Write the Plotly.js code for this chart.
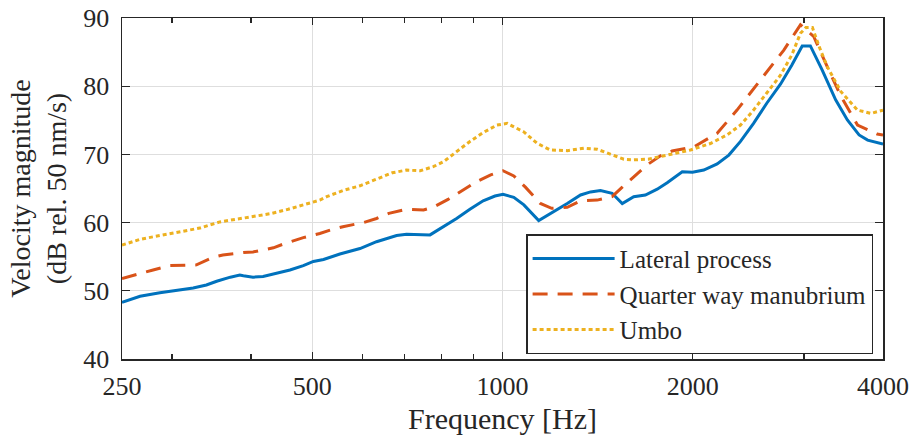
<!DOCTYPE html>
<html>
<head>
<meta charset="utf-8">
<script src="https://cdn.plot.ly/plotly-3.0.1.min.js"></script>
<style>
  html, body { margin: 0; padding: 0; background: #ffffff; }
  #chart { width: 913px; height: 438px; }
</style>
</head>
<body>
<div id="chart"></div>
<script>
// ---- Data ----
const seriesNames = ["Lateral process", "Quarter way manubrium", "Umbo"];

const lateralFreq = [250, 267, 287, 309, 324, 340, 353, 371, 384, 389, 403, 418, 439, 461, 484, 502, 521, 553, 595, 632, 680, 705, 768, 806, 846, 888, 932, 973, 1002, 1042, 1081, 1141, 1206, 1266, 1329, 1378, 1429, 1491, 1547, 1613, 1683, 1757, 1822, 1925, 1998, 2082, 2186, 2281, 2380, 2496, 2619, 2753, 2870, 2980, 3070, 3204, 3366, 3513, 3666, 3782, 4000];
const lateralVel = [48.3, 49.2, 49.7, 50.1, 50.4, 50.85, 51.4, 52.0, 52.3, 52.2, 52.0, 52.1, 52.6, 53.05, 53.7, 54.3, 54.6, 55.4, 56.2, 57.2, 58.1, 58.3, 58.2, 59.4, 60.6, 61.95, 63.2, 63.9, 64.15, 63.7, 62.6, 60.3, 61.6, 62.8, 64.05, 64.5, 64.7, 64.3, 62.8, 63.8, 64.05, 64.9, 65.85, 67.45, 67.4, 67.7, 68.6, 69.9, 71.9, 74.55, 77.5, 80.3, 83.1, 85.9, 85.9, 82.4, 78.0, 75.05, 72.85, 72.1, 71.5];

const quarterFreq = [250, 264, 280, 298, 316, 328, 348, 361, 389, 403, 434, 450, 484, 514, 534, 559, 602, 632, 661, 705, 750, 777, 820, 866, 910, 958, 1002, 1042, 1087, 1148, 1196, 1266, 1329, 1412, 1491, 1547, 1624, 1693, 1778, 1855, 2008, 2186, 2350, 2527, 2787, 2961, 3107, 3263, 3432, 3645, 3915, 4000];
const quarterVel = [51.8, 52.45, 53.05, 53.7, 53.8, 53.8, 54.9, 55.25, 55.6, 55.7, 56.3, 56.85, 57.8, 58.4, 58.9, 59.4, 60.0, 60.6, 61.35, 61.95, 61.85, 62.25, 63.4, 64.8, 66.0, 67.0, 67.6, 66.85, 65.2, 62.8, 62.1, 62.25, 63.2, 63.3, 63.8, 65.2, 67.0, 68.45, 69.8, 70.5, 71.1, 73.1, 76.5, 80.2, 85.3, 89.0, 87.3, 82.9, 78.5, 74.3, 73.0, 72.85];

const umboFreq = [250, 267, 287, 309, 332, 357, 380, 403, 429, 458, 484, 514, 527, 559, 595, 632, 669, 705, 741, 777, 806, 846, 888, 932, 980, 1017, 1081, 1135, 1191, 1266, 1345, 1412, 1482, 1556, 1613, 1700, 1822, 1984, 2133, 2266, 2380, 2496, 2619, 2753, 2870, 2961, 3020, 3093, 3170, 3263, 3432, 3645, 3830, 4000];
const umboVel = [56.7, 57.55, 58.1, 58.7, 59.2, 60.1, 60.5, 60.8, 61.3, 61.95, 62.6, 63.3, 63.8, 64.7, 65.4, 66.35, 67.3, 67.7, 67.6, 68.2, 68.9, 70.4, 71.9, 73.2, 74.3, 74.55, 73.3, 71.6, 70.65, 70.55, 70.9, 70.75, 70.05, 69.3, 69.2, 69.3, 69.9, 70.65, 71.6, 72.85, 74.3, 76.5, 79.0, 81.6, 84.6, 87.75, 88.6, 88.6, 85.8, 82.9, 79.2, 76.5, 76.0, 76.5];

const xTickVals = [250, 500, 1000, 2000, 4000];
const xTickText = ["250", "500", "1000", "2000", "4000"];
const xMinorVals = [300, 400, 600, 700, 800, 900, 3000];
const yTickVals = [40, 50, 60, 70, 80, 90];

// ---- Styling ----
const FONT = "'Liberation Serif', 'Times New Roman', serif";
const INK = "#262626";

const traces = [
  { x: lateralFreq, y: lateralVel, name: seriesNames[0], type: "scatter", mode: "lines",
    line: { color: "#0072BD", width: 3, dash: "solid" } },
  { x: quarterFreq, y: quarterVel, name: seriesNames[1], type: "scatter", mode: "lines",
    line: { color: "#D95319", width: 3, dash: "15px,10px" } },
  { x: umboFreq, y: umboVel, name: seriesNames[2], type: "scatter", mode: "lines",
    line: { color: "#EDB120", width: 3, dash: "4px,3px" } }
];

const layout = {
  width: 913, height: 438,
  margin: { l: 122, r: 30, t: 18, b: 79 },
  paper_bgcolor: "#ffffff", plot_bgcolor: "#ffffff",
  font: { family: FONT, color: INK, size: 26 },
  showlegend: true,
  xaxis: {
    type: "log",
    range: [Math.log10(250), Math.log10(4000)],
    tickmode: "array", tickvals: xTickVals, ticktext: xTickText,
    ticks: "inside", ticklen: 7, tickwidth: 1.3, tickcolor: INK,
    showline: true, linecolor: INK, linewidth: 1.5, mirror: "ticks",
    showgrid: true, gridcolor: "#dedede", gridwidth: 1,
    zeroline: false,
    tickfont: { family: FONT, size: 26, color: INK },
    ticklabelstandoff: 3,
    minor: { tickmode: "array", tickvals: xMinorVals, ticks: "inside", ticklen: 5, tickcolor: INK, tickwidth: 1.3, showgrid: false },
    title: { text: "Frequency [Hz]", font: { family: FONT, size: 30, color: INK }, standoff: 8 }
  },
  yaxis: {
    range: [40, 90],
    tickmode: "array", tickvals: yTickVals,
    ticks: "inside", ticklen: 8, tickwidth: 1.3, tickcolor: INK,
    showline: true, linecolor: INK, linewidth: 1.5, mirror: "ticks",
    showgrid: true, gridcolor: "#dedede", gridwidth: 1,
    zeroline: false,
    tickfont: { family: FONT, size: 26, color: INK },
    ticklabelstandoff: 6,
    title: { text: "Velocity magnitude<br>(dB rel. 50 nm/s)", font: { family: FONT, size: 28, color: INK }, standoff: 8 }
  },
  legend: {
    x: 0.987, y: 0.014, xanchor: "right", yanchor: "bottom",
    bgcolor: "#ffffff", bordercolor: INK, borderwidth: 1.5,
    font: { family: FONT, size: 25, color: INK },
    itemwidth: 82, tracegroupgap: 0
  }
};

Plotly.newPlot("chart", traces, layout, { staticPlot: true, displayModeBar: false });
</script>
</body>
</html>
